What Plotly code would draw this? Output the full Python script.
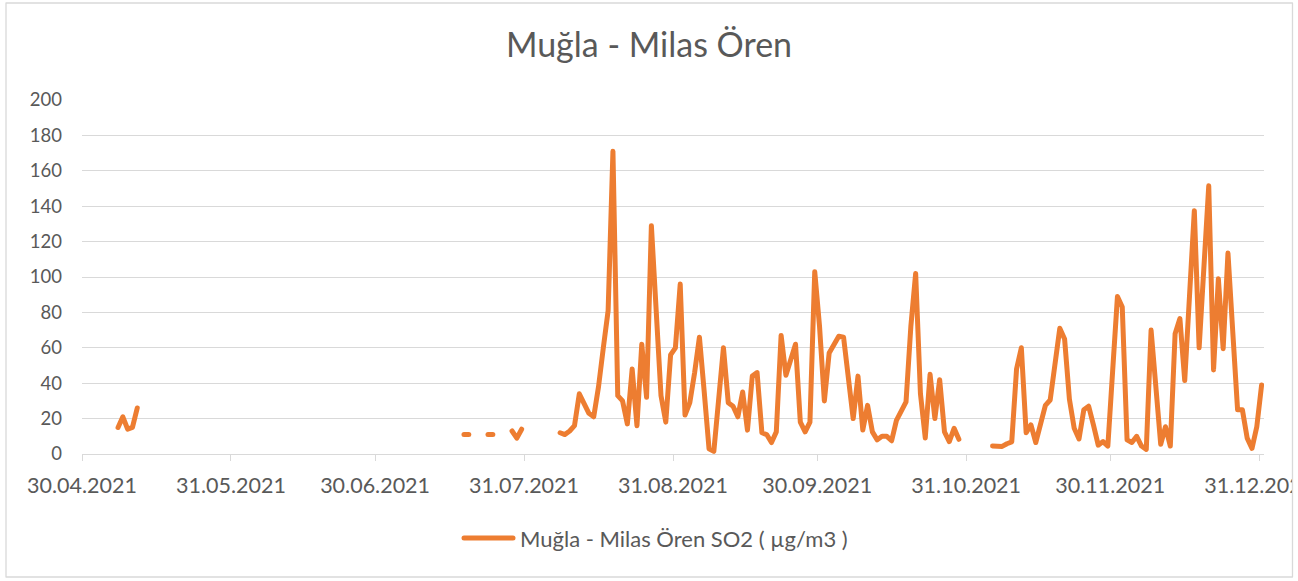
import datetime as dt
import plotly.graph_objects as go

# ---- data (daily SO2, µg/m3), segments of consecutive days ----
seg1_start = "2021-05-07"
seg1_values = [15, 21, 14, 15, 26]

seg2_start = "2021-07-18"
seg2_values = [11, 11]

seg3_start = "2021-07-23"
seg3_values = [11, 11]

seg4_start = "2021-07-28"
seg4_values = [13, 9, 14]

seg5_start = "2021-08-07"
seg5_values = [12, 11, 13, 16, 34, 29, 23, 21, 38, 60,
               81, 171, 33, 30, 17, 48, 16, 62, 32, 129,
               78, 33, 18, 56, 60, 96, 22, 29, 46, 66,
               35, 3, 1.5, 30, 60, 29, 27, 21, 35, 13.5,
               44, 46, 12, 11, 6.5, 12.5, 67, 44.5, 53, 62,
               18, 12.5, 18, 103, 72, 30, 57, 62, 66.5, 66,
               40, 20, 44, 13.5, 27.5, 12.5, 8, 10, 10, 7.5,
               19, 24, 29.5, 72, 102, 34, 9, 45, 20, 42,
               12.5, 7, 14.5, 8.3]

seg6_start = "2021-11-05"
seg6_values = [4.5, 4.5, 4.3, 5.8, 6.8, 48, 60, 12, 16.5, 6.5,
               17, 27.5, 30.5, 52, 71, 65, 31, 14.5, 8.5, 25,
               27, 16.5, 5, 7, 4.5, 47, 89, 83, 8, 6.5,
               10, 4.5, 2.6, 70, 36, 5.5, 15.4, 4.5, 68, 76.5,
               41.5, 89, 137.5, 60, 105, 151.5, 47.5, 99, 59.5, 113.5,
               69, 25, 25, 9, 3.2, 15.4, 39]

segments = [(seg1_start, seg1_values), (seg2_start, seg2_values),
            (seg3_start, seg3_values), (seg4_start, seg4_values),
            (seg5_start, seg5_values), (seg6_start, seg6_values)]

tick_dates = ["2021-04-30", "2021-05-31", "2021-06-30", "2021-07-31",
              "2021-08-31", "2021-09-30", "2021-10-31", "2021-11-30",
              "2021-12-31"]
tick_labels = ["30.04.2021", "31.05.2021", "30.06.2021", "31.07.2021",
               "31.08.2021", "30.09.2021", "31.10.2021", "30.11.2021",
               "31.12.2021"]

y_ticks = list(range(0, 201, 20))

series_name = "Muğla - Milas Ören SO2 ( µg/m3 )"
title_text = "Muğla - Milas Ören"

# ---- build x/y with gaps ----
xs, ys = [], []
for start, vals in segments:
    d0 = dt.datetime.strptime(start, "%Y-%m-%d") + dt.timedelta(hours=12)
    for i, v in enumerate(vals):
        xs.append(d0 + dt.timedelta(days=i))
        ys.append(v)
    xs.append(d0 + dt.timedelta(days=len(vals)))
    ys.append(None)

W, H = 1298, 581
L, R, T, B = 82, 34, 100, 127
PW, PH = W - L - R, H - T - B

def px_x(p):
    return (p - L) / PW

def px_y(p):
    return (H - B - p) / PH

GRAY_TXT = "#595959"
GRID = "#D9D9D9"
ORANGE = "#ED7D31"
FONT = "Lato, 'Open Sans', sans-serif"

fig = go.Figure()
fig.add_trace(go.Scatter(
    x=xs, y=ys, mode="lines", name=series_name,
    line=dict(color=ORANGE, width=5, shape="linear"),
    connectgaps=False, showlegend=False,
))

fig.update_layout(
    width=W, height=H,
    margin=dict(l=L, r=R, t=T, b=B, autoexpand=False),
    paper_bgcolor="white", plot_bgcolor="white",
    font=dict(family=FONT, color=GRAY_TXT, size=18),
    title=dict(text=title_text, x=0.5, xanchor="center", xref="container",
               y=1 - 45 / H, yanchor="middle", yref="container",
               font=dict(family=FONT, size=34, color=GRAY_TXT)),
    showlegend=False,
    xaxis=dict(
        type="date",
        range=["2021-04-30 00:00", "2022-01-01 00:00"],
        tickmode="array", tickvals=tick_dates, ticktext=tick_labels,
        showgrid=False, showline=True, linecolor=GRID, linewidth=1.3,
        ticks="outside", ticklen=6, tickcolor=GRID, tickwidth=1.3,
        tickfont=dict(family=FONT, size=21.5, color=GRAY_TXT),
        ticklabelstandoff=6,
        ticklabeloverflow="allow", zeroline=False, fixedrange=True,
    ),
    yaxis=dict(
        range=[0, 200], tickmode="array", tickvals=y_ticks,
        showgrid=True, gridcolor=GRID, gridwidth=1.3,
        showline=False, zeroline=False, ticks="",
        tickfont=dict(family=FONT, size=18.5, color=GRAY_TXT),
        ticklabelstandoff=19, fixedrange=True,
    ),
)

# legend (drawn as a line sample + text, matching the reference's long key)
fig.add_shape(type="line", xref="paper", yref="paper",
              x0=px_x(464), x1=px_x(513), y0=px_y(538), y1=px_y(538),
              line=dict(color=ORANGE, width=5))
fig.add_annotation(xref="paper", yref="paper", x=px_x(518), y=px_y(538),
                   xanchor="left", yanchor="middle", showarrow=False,
                   text=series_name,
                   font=dict(family=FONT, size=22, color=GRAY_TXT))

# white mask beyond chart border, then the chart border
fig.add_shape(type="rect", xref="paper", yref="paper",
              x0=px_x(1292.5), x1=px_x(1310), y0=px_y(600), y1=px_y(-10),
              fillcolor="white", line=dict(width=0), layer="above")
fig.add_shape(type="rect", xref="paper", yref="paper",
              x0=px_x(6), x1=px_x(1292.5), y0=px_y(577), y1=px_y(3),
              line=dict(color=GRID, width=1.3), fillcolor="rgba(0,0,0,0)",
              layer="above")

post = ("document.body.style.margin='0';"
        "var s=document.createElement('style');"
        "s.innerHTML='.js-line, .shapelayer path{stroke-linecap:round !important;"
        "stroke-linejoin:round !important;}';"
        "document.head.appendChild(s);")

fig.write_html("out.html", post_script=post,
               config={"displayModeBar": False})
